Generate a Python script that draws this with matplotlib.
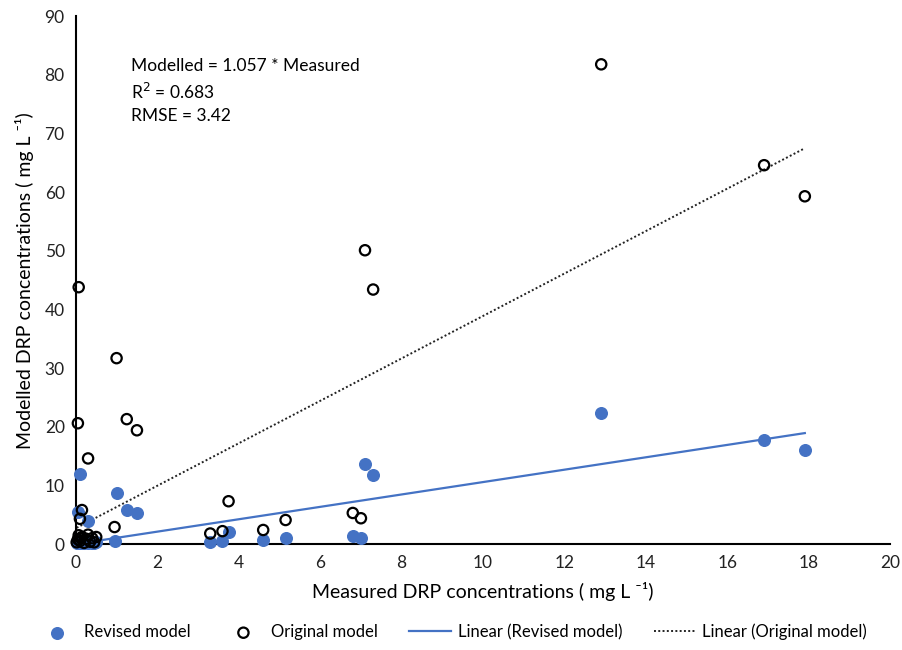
import numpy as np
import matplotlib
matplotlib.use('Agg')
import matplotlib.pyplot as plt

plt.rcParams['font.family'] = ['Lato', 'DejaVu Sans']

# Measured vs modelled DRP (mg/L)
measured = [0.02, 0.05, 0.07, 0.1, 0.12, 0.15, 0.2, 0.25, 0.3, 0.35, 0.4, 0.45, 0.5,
            0.05, 0.1, 0.15, 0.3, 0.95, 1.0, 1.25, 1.5, 0.07,
            3.3, 3.6, 3.75, 4.6, 5.15, 6.8, 7.0, 7.1, 7.3, 12.9, 16.9, 17.9]
original = [0.3, 0.8, 1.5, 0.5, 1.0, 1.2, 0.2, 0.9, 1.6, 0.4, 1.0, 0.3, 1.2,
            20.6, 4.3, 5.8, 14.6, 2.9, 31.7, 21.3, 19.4, 43.8,
            1.8, 2.2, 7.3, 2.4, 4.1, 5.3, 4.4, 50.1, 43.4, 81.8, 64.6, 59.3]
revised = [0.1, 0.2, 0.3, 0.1, 0.4, 0.2, 0.1, 0.3, 0.2, 0.3, 0.2, 0.1, 0.3,
           5.5, 12.0, 0.6, 3.9, 0.5, 8.7, 5.8, 5.3, 0.4,
           0.4, 0.6, 2.0, 0.7, 1.0, 1.3, 1.0, 13.7, 11.8, 22.4, 17.7, 16.1]

# trendline coefficients
rev_slope, rev_icpt = 1.057, 0.0
orig_slope, orig_icpt = 3.62, 2.7

fig = plt.figure(figsize=(9.03, 6.5), dpi=100)
ax = fig.add_axes([0.084, 0.163, 0.902, 0.812])

x_line = np.array([min(measured), max(measured)])
ax.plot(x_line, rev_slope * x_line + rev_icpt, color='#4472C4', lw=1.6,
        label='Linear (Revised model)', zorder=2)
ax.plot(x_line, orig_slope * x_line + orig_icpt, color='#222222', lw=1.4,
        linestyle=(0, (1, 1.2)), label='Linear (Original model)', zorder=2)
ax.scatter(measured, revised, s=70, color='#4472C4', label='Revised model',
           zorder=3, clip_on=False)
ax.scatter(measured, original, s=55, facecolors='none', edgecolors='black',
           linewidths=1.6, label='Original model', zorder=4, clip_on=False)

ax.text(1.35, 77.3, 'Modelled = 1.057 * Measured\nR$^2$ = 0.683\nRMSE = 3.42',
        fontsize=12.5, va='center', ha='left', linespacing=1.45)

ax.set_xlim(0, 20)
ax.set_ylim(0, 90)
ax.set_xticks(np.arange(0, 21, 2))
ax.set_yticks(np.arange(0, 91, 10))
ax.tick_params(length=0, labelsize=12.5, pad=8, colors='#222222')
for s in ['top', 'right']:
    ax.spines[s].set_visible(False)
for s in ['left', 'bottom']:
    ax.spines[s].set_color('black')
    ax.spines[s].set_linewidth(1.5)

ax.set_xlabel('Measured DRP concentrations ( mg L \u207b\u00b9)', fontsize=14, labelpad=8)
ax.set_ylabel('Modelled DRP concentrations ( mg L \u207b\u00b9)', fontsize=14, labelpad=8)

h, l = ax.get_legend_handles_labels()
order = [2, 3, 0, 1]
fig.legend([h[i] for i in order], [l[i] for i in order], loc='center',
           bbox_to_anchor=(0.5, 0.028), ncol=4, frameon=False, fontsize=12,
           handlelength=2.5, columnspacing=1.9, handletextpad=0.4)

fig.savefig('out.png', dpi=100)
